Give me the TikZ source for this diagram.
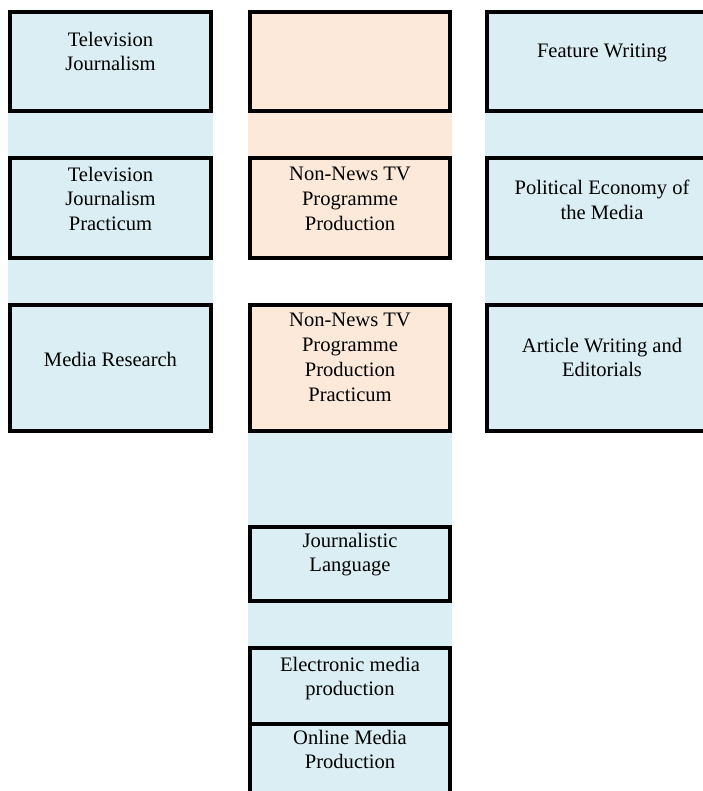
\documentclass[tikz,border=0pt]{standalone}
\usepackage{fontspec}
\setmainfont{Liberation Serif}
\usetikzlibrary{positioning, backgrounds}
\definecolor{jblue}{HTML}{DAEEF3}
\definecolor{jpeach}{HTML}{FDE9D9}

\begin{document}
\begin{tikzpicture}[
    course/.style={draw, line width=1.8pt, fill=#1, inner sep=0pt},
    colA/.style={minimum width=4.02cm},
    colB/.style={minimum width=4cm},
    colC/.style={minimum width=4.86cm},
    txt/.style={anchor=north, align=center, inner sep=0pt,
                font=\fontsize{11.7}{14.2}\selectfont},
    strip/.style={fill=#1},
]
    \useasboundingbox (0,0) rectangle (14.06,-15.82);
    \clip (0,0) rectangle (14.06,-15.82);

    % Left column
    \node[course=jblue, colA, minimum height=1.98cm] (tvj) at (2.21,-1.23) {};
    \node[course=jblue, colA, minimum height=2cm] (tvjp) at (2.21,-4.16) {};
    \node[course=jblue, colA, minimum height=2.52cm] (mres) at (2.21,-7.36) {};

    % Middle column
    \node[course=jpeach, colB, minimum height=1.98cm] (blank) at (7,-1.23) {};
    \node[course=jpeach, colB, minimum height=2cm] (nntv) at (7,-4.16) {};
    \node[course=jpeach, colB, minimum height=2.52cm] (nntvp) at (7,-7.36) {};
    \node[course=jblue, colB, minimum height=1.48cm] (jlang) at (7,-11.28) {};
    \node[course=jblue, colB, minimum height=1.52cm] (emp) at (7,-13.72) {};
    \node[course=jblue, colB, minimum height=1.72cm] (omp) at (7,-15.34) {};

    % Right column
    \node[course=jblue, colC, minimum height=1.98cm] (fw) at (12.17,-1.23) {};
    \node[course=jblue, colC, minimum height=2cm] (pem) at (12.17,-4.16) {};
    \node[course=jblue, colC, minimum height=2.52cm] (awe) at (12.17,-7.36) {};

    % Links between courses
    \begin{scope}[on background layer]
        \fill[strip=jblue] (tvj.south west) rectangle (tvjp.north east);
        \fill[strip=jblue] (tvjp.south west) rectangle (mres.north east);
        \fill[strip=jpeach] (blank.south west) rectangle (nntv.north east);
        \fill[strip=jblue] (nntvp.south west) rectangle (jlang.north east);
        \fill[strip=jblue] (jlang.south west) rectangle (emp.north east);
        \fill[strip=jblue] (fw.south west) rectangle (pem.north east);
        \fill[strip=jblue] (pem.south west) rectangle (awe.north east);
    \end{scope}

    % Course names
    \node[txt] (tvjt) at ([yshift=-0.42cm]tvj.north) {Television\\Journalism};
    \node[txt] (tvjpt) at ([yshift=-0.2cm]tvjp.north) {Television\\Journalism\\Practicum};
    \node[txt] (mrest) at ([yshift=-0.96cm]mres.north) {Media Research};
    \node[txt] (nntvt) at ([yshift=-0.2cm]nntv.north) {Non-News TV\\Programme\\Production};
    \node[txt] (nntvpt) at ([yshift=-0.18cm]nntvp.north) {Non-News TV\\Programme\\Production\\Practicum};
    \node[txt] (jlangt) at ([yshift=-0.14cm]jlang.north) {Journalistic\\Language};
    \node[txt] (empt) at ([yshift=-0.2cm]emp.north) {Electronic media\\production};
    \node[txt] (ompt) at ([yshift=-0.14cm]omp.north) {Online Media\\Production};
    \node[txt] (fwt) at ([yshift=-0.66cm]fw.north -| 12.04,0) {Feature Writing};
    \node[txt] (pemt) at ([yshift=-0.46cm]pem.north -| 12.04,0) {Political Economy of\\the Media};
    \node[txt] (awet) at ([yshift=-0.68cm]awe.north -| 12.04,0) {Article Writing and\\Editorials};
\end{tikzpicture}
\end{document}
